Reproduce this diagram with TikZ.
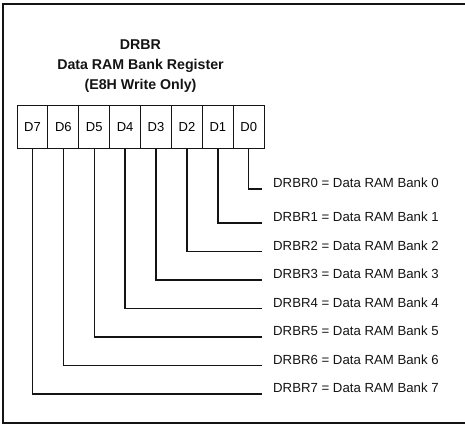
\documentclass[tikz,border=0pt]{standalone}
\usepackage{fontspec}
\setmainfont{Liberation Sans}
\usetikzlibrary{positioning}
\definecolor{drInk}{HTML}{141414}
\tikzset{
  bitbox/.style={draw=drInk, line width=1pt, minimum width=30.9pt, minimum height=42pt,
    inner sep=0pt, outer sep=0pt, font=\fontsize{13}{15}\selectfont},
  bankwire/.style={draw=drInk, line width=1.4pt},
  banktext/.style={anchor=base west, inner sep=0pt, font=\fontsize{13.2}{15}\selectfont}
}

\begin{document}
\begin{tikzpicture}[x=1pt, y=-1pt]
	\useasboundingbox (0,0) rectangle (465,425);
	% frame (open at the right edge)
	\draw[drInk, line width=1.2pt] (465,4) -- (3,4) -- (3,423) -- (465,423);

	% title
	\node[align=center, font=\fontsize{14.2}{20}\selectfont\bfseries, text=drInk]
		(title) at (140.5,66) {DRBR\\Data RAM Bank Register\\(E8H Write Only)};

	% register bits
	\node[bitbox, anchor=north west] (b7) at (17,106) {D7};
	\node[bitbox, right=0pt of b7] (b6) {D6};
	\node[bitbox, right=0pt of b6] (b5) {D5};
	\node[bitbox, right=0pt of b5] (b4) {D4};
	\node[bitbox, right=0pt of b4] (b3) {D3};
	\node[bitbox, right=0pt of b3] (b2) {D2};
	\node[bitbox, right=0pt of b2] (b1) {D1};
	\node[bitbox, right=0pt of b1] (b0) {D0};

	% bank select lines
	\foreach \k/\yy in {0/189, 1/223, 2/251.5, 3/280, 4/308.5, 5/337, 6/365.5, 7/394} {
		\coordinate (e\k) at (262,\yy);
		\draw[bankwire] (b\k.south) |- (e\k);
		\node[banktext, text=drInk] (l\k) at (273,\yy-1.5) {DRBR\k\ = Data RAM Bank \k};
	}
\end{tikzpicture}
\end{document}
